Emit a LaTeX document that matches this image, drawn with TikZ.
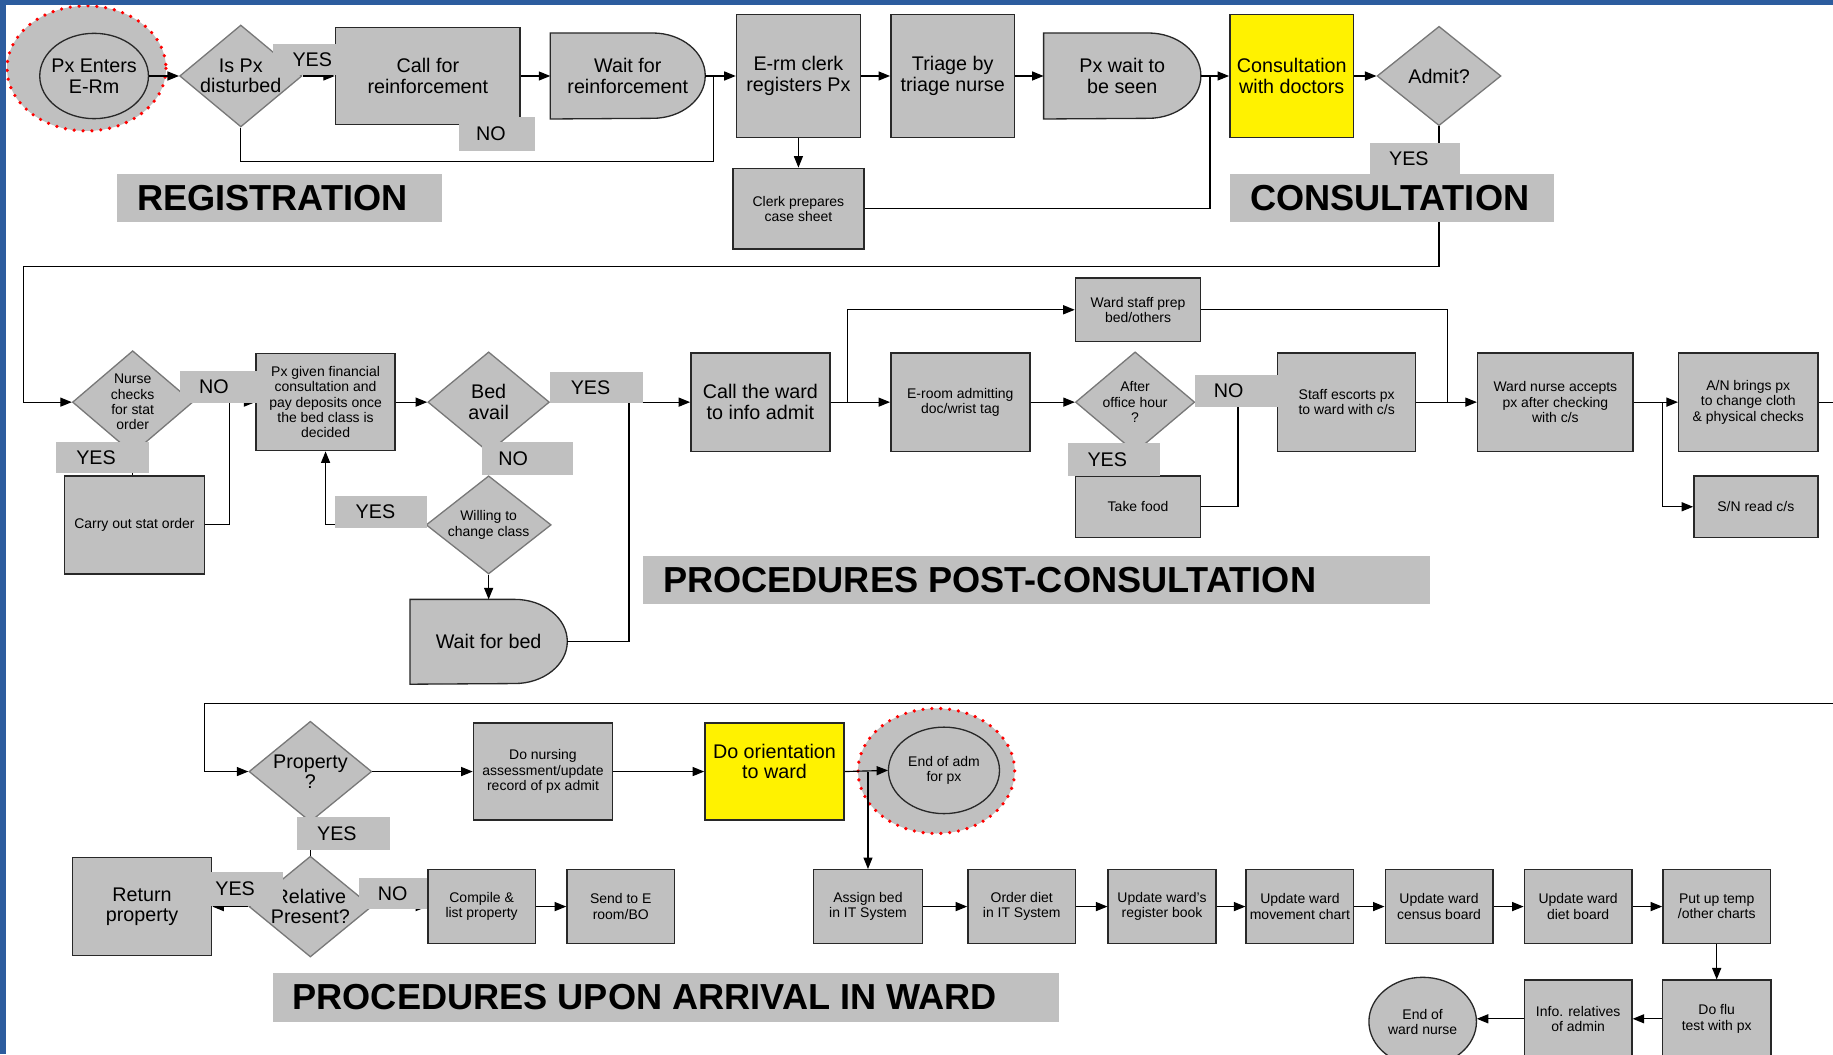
\documentclass[tikz,border=0pt]{standalone}
\usepackage{fontspec}
\setmainfont{Liberation Sans}
\usetikzlibrary{shapes.geometric,arrows.meta,positioning}
\pgfdeclarelayer{bg}
\pgfsetlayers{bg,main}
\definecolor{lgray}{RGB}{192,192,192}
\definecolor{bdark}{RGB}{40,40,40}
\definecolor{dgray}{RGB}{120,120,120}
\definecolor{frameblue}{RGB}{44,92,158}
\def\pxl{0.025cm}
\newcommand\bigfont{\fontsize{12}{12.5}\selectfont}
\newcommand\smallfont{\fontsize{8.5}{9.3}\selectfont}
\newcommand\headfont{\fontsize{22}{24}\selectfont\bfseries}
% delay shape: node, x radius, y radius
\newcommand\dshape[3]{\draw[shp] (#1.south west) -- (#1.north west) -- ([xshift=-#2*\pxl]#1.north east)
	arc[start angle=-90, end angle=90, x radius=#2, y radius=#3] -- cycle;}
\tikzset{
	sz/.style 2 args={minimum width=#1*\pxl, minimum height=#2*\pxl},
	box/.style={rectangle, draw=bdark, line width=0.9pt, fill=lgray, align=center, inner sep=1pt, font=\bigfont},
	sbox/.style={box, font=\smallfont},
	ybox/.style={box, fill=yellow},
	dec/.style={diamond, draw=dgray, line width=0.8pt, fill=lgray, align=center, inner sep=0pt, aspect=1.2, font=\bigfont},
	sdec/.style={dec, font=\smallfont},
	txt/.style={rectangle, inner sep=0pt, align=center, font=\bigfont},
	shp/.style={draw=bdark, line width=0.8pt, fill=lgray},
	dots/.style={draw=red, line width=2.2pt, dash pattern=on 0pt off 5.4pt, line cap=round, fill=lgray},
	lbl/.style={rectangle, fill=lgray, inner sep=0pt, anchor=west},
	ltx/.style={anchor=west, inner sep=0pt, font=\bigfont},
	htx/.style={anchor=west, inner sep=0pt, font=\headfont},
	ln/.style={line width=0.7pt},
	arr/.style={ln, -{Triangle[length=7pt,width=5.5pt]}},
}
\begin{document}
\begin{tikzpicture}[x=\pxl, y=-\pxl]
	\useasboundingbox (0,0) rectangle (1568,902);
	% frame
	\fill[frameblue] (0,0) rectangle (1568,4);
	\fill[frameblue] (0,0) rectangle (5,902);
	%
	% registration
		\node[txt, sz={93}{73}] (start) at (80.5,65) {Px Enters\\E-Rm};
		\node[dec, sz={103}{84}] (dist) at (206,65) {Is Px\\disturbed};
		\node[box, sz={158}{83}] (call) at (366,65) {Call for\\reinforcement};
		\node[txt, sz={132}{73}] (wfr) at (537,65) {Wait for\\reinforcement};
		\node[box, sz={106}{105}] (clerk) at (683,65) {E-rm clerk\\registers Px};
		\node[sbox, sz={112}{69}] (cases) at (683,178.5) {Clerk prepares\\case sheet};
		\node[box, sz={106}{105}] (triage) at (815,65) {Triage by\\triage nurse};
		\node[txt, sz={134}{73}] (seen) at (960,65) {Px wait to\\be seen};
	% consultation
		\node[ybox, sz={106}{105}] (consult) at (1105,65) {Consultation\\with doctors};
		\node[dec, sz={106}{85}] (admit) at (1231,65) {Admit?};
	% post-consultation
		\node[sdec, sz={103}{88}, aspect=1.17] (nurse) at (113.5,344) {Nurse\\checks\\for stat\\order};
		\node[sbox, sz={120}{84}] (stat) at (115,449) {Carry out stat order};
		\node[sbox, sz={119}{83}] (fin) at (278.5,344) {Px given financial\\consultation and\\pay deposits once\\the bed class is\\decided};
		\node[dec, sz={104}{86}] (bed) at (418,344) {Bed\\avail};
		\node[sdec, sz={107}{84}, aspect=1.27] (will) at (418,449) {Willing to\\change class};
		\node[txt, sz={134}{72}] (wbed) at (418,549) {Wait for bed};
		\node[box, sz={119}{84}] (ward) at (650.5,344) {Call the ward\\to info admit};
		\node[sbox, sz={107}{54}] (prep) at (973.5,265) {Ward staff prep\\bed/others};
		\node[sbox, sz={119}{84}] (eroom) at (821.5,344) {E-room admitting\\doc/wrist tag};
		\node[sdec, sz={102}{86}] (office) at (971,344) {After\\office hour\\?};
		\node[sbox, sz={107}{53}] (food) at (973.5,433.5) {Take food};
		\node[sbox, sz={118}{84}] (escort) at (1152,344) {Staff escorts px\\to ward with c/s};
		\node[sbox, sz={133}{84}] (accept) at (1330.5,344) {Ward nurse accepts\\px after checking\\with c/s};
		\node[sbox, sz={119}{84}] (brings) at (1495.5,344) {A/N brings px\\to change cloth\\\& physical checks};
		\node[sbox, sz={106}{53}] (read) at (1502,433.5) {S/N read c/s};
	% arrival in ward
		\node[dec, sz={105}{86}] (prop) at (265.5,660) {Property\\?};
		\node[sbox, sz={119}{83}] (nursing) at (464.5,660) {Do nursing\\assessment/update\\record of px admit};
		\node[ybox, sz={119}{83}] (orient) at (662.5,660) {Do orientation\\to ward\\\mbox{}};
		\node[txt, sz={95}{74}, font=\smallfont] (endadm) at (807.5,659) {End of adm\\for px};
		\node[dec, sz={105}{85}] (rel) at (265.5,775.5) {Relative\\Present?};
		\node[box, sz={119}{84}] (ret) at (121.5,775.5) {Return\\property};
		\node[sbox, sz={92}{63}] (compile) at (412,775.5) {Compile \&\\list property};
		\node[sbox, sz={92}{63}] (send) at (531,775.5) {Send to E\\room/BO};
		\node[sbox, sz={93}{63}] (assign) at (742.5,775.5) {Assign bed\\in IT System};
		\foreach \n/\x/\t in {order/874/{Order diet\\in IT System},register/994/{Update ward's\\register book},
			movement/1112/{Update ward\\movement chart},census/1231/{Update ward\\census board},
			dietb/1350/{Update ward\\diet board},temp/1468.5/{Put up temp\\/other charts}}
			\node[sbox, sz={92}{63}] (\n) at (\x,775.5) {\t};
		\node[sbox, sz={93}{66}] (flu) at (1468.5,871.5) {Do flu\\test with px};
		\node[sbox, sz={92}{66}] (info) at (1350,871.5) {Info. relatives\\of admin};
		\node[txt, sz={92}{76}, font=\smallfont] (endward) at (1217,874) {End of\\ward nurse};
	%
	% outlines behind the texts
	\begin{pgfonlayer}{bg}
		\draw[dots] (74,58.5) ellipse[x radius=68, y radius=53.5];
		\draw[shp] (start.center) ellipse[x radius=46.5, y radius=36.5];
		\dshape{wfr}{45}{36.5}
		\dshape{seen}{45}{36.5}
		\dshape{wbed}{45}{36}
		\draw[dots] (801,659.5) ellipse[x radius=67, y radius=53.5];
		\draw[shp] (endadm.center) ellipse[x radius=47.5, y radius=37];
		\draw[shp] (endward.center) ellipse[x radius=46, y radius=38];
	\end{pgfonlayer}
	%
	% lines
		\draw[arr] (start.east) -- (dist.west);
		\draw[arr] (dist.east) -- (call.west);
		\coordinate (j1) at (610,138);
		\draw[ln] (dist.south) |- (j1) -- (j1 |- clerk.west);
		\draw[arr] (call.east) -- (wfr.west);
		\draw[arr] (wfr.east) -- (clerk.west);
		\draw[arr] (clerk.south) -- (cases.north);
		\draw[arr] (clerk.east) -- (triage.west);
		\draw[arr] (triage.east) -- (seen.west);
		\coordinate (j2) at (1035,65);
		\draw[ln] (seen.east) -- (j2);
		\draw[ln] (cases.east) -| (j2);
		\draw[arr] (j2) -- (consult.west);
		\draw[arr] (consult.east) -- (admit.west);
		\coordinate (w1) at (20,228);
		\draw[arr] (admit.south) |- (w1) |- (nurse.west);
	%
		\draw[arr] (nurse.east) -- (fin.west);
		\draw[ln] (nurse.south) -- (nurse.south |- stat.north);
		\coordinate (j3) at (196,344);
		\draw[ln] (stat.east) -| (j3);
		\draw[arr] (fin.east) -- (bed.west);
		\draw[arr] (bed.east) -- (ward.west);
		\draw[ln] (bed.south) -- (will.north);
		\draw[arr] (will.west) -| (fin.south);
		\draw[arr] (will.south) -- (wbed.north);
		\coordinate (j4) at (538,344);
		\draw[ln] (wbed.east) -| (j4);
		\draw[arr] (ward.east) -- (eroom.west);
		\coordinate (j5) at (725,344);
		\draw[arr] (j5) |- (prep.west);
		\draw[arr] (eroom.east) -- (office.west);
		\draw[arr] (office.east) -- (escort.west);
		\draw[ln] (office.south) -- (food.north);
		\coordinate (j6) at (1059,344);
		\draw[ln] (food.east) -| (j6);
		\draw[arr] (escort.east) -- (accept.west);
		\coordinate (j7) at (1238,344);
		\draw[ln] (prep.east) -| (j7);
		\draw[arr] (accept.east) -- (brings.west);
		\coordinate (j8) at (1422,344);
		\draw[arr] (j8) |- (read.west);
		\coordinate (e1) at (1568,344);
		\draw[ln] (brings.east) -- (e1);
	%
		\coordinate (e2) at (1568,602);
		\coordinate (w2) at (175,602);
		\draw[arr] (e2) -- (w2) |- (prop.west);
		\draw[arr] (prop.east) -- (nursing.west);
		\draw[arr] (nursing.east) -- (orient.west);
		\draw[arr] (orient.east) -- (endadm.west);
		\coordinate (j9) at (742.5,660);
		\draw[arr] (j9) -- (j9 |- assign.north);
		\draw[ln] (prop.south) -- (rel.north);
		\draw[arr] (rel.west) -- (ret.east);
		\draw[arr] (rel.east) -- (compile.west);
		\draw[arr] (compile.east) -- (send.west);
		\foreach \a/\b in {assign/order,order/register,register/movement,movement/census,census/dietb,dietb/temp}
			\draw[arr] (\a.east) -- (\b.west);
		\draw[arr] (temp.south) -- (flu.north);
		\draw[arr] (flu.west) -- (info.east);
		\draw[arr] (info.west) -- (info.west -| endward.east);
	%
	% yes/no labels
		\foreach \n/\x/\y/\w/\h/\p/\t in {yes1/233/51/54/26/17/YES,no1/392/114.5/65/29/15/NO,
			yes2/1172/136/77/28/16/YES,no2/154/331/72/28/16/NO,yes3/48/391.5/79/27/17/YES,
			yes4/470/331.5/80/27/18/YES,no3/412/392/78/28/14/NO,yes5/286/438/79/28/18/YES,
			no4/1022/334.5/71/27/16/NO,yes6/913/393/79/28/17/YES,yes7/254/713/79/28/17/YES,
			yes8/180/760.5/62/29/4/YES,no5/307/764.5/58/27/16/NO}
		{
			\node[lbl, sz={\w}{\h}] (\n) at (\x,\y) {};
			\node[ltx] (t\n) at ([xshift=\p*\pxl]\n.west) {\t};
		}
	% headings
		\foreach \n/\x/\y/\w/\h/\t in {regh/100/169.5/278/41/REGISTRATION,conh/1052/169.5/277/41/CONSULTATION,
			posth/550/496.5/673/41/PROCEDURES POST-CONSULTATION,arrh/233/853/673/42/PROCEDURES UPON ARRIVAL IN WARD}
		{
			\node[lbl, sz={\w}{\h}] (\n) at (\x,\y) {};
			\node[htx] (t\n) at ([xshift=17*\pxl]\n.west) {\t};
		}
\end{tikzpicture}
\end{document}
